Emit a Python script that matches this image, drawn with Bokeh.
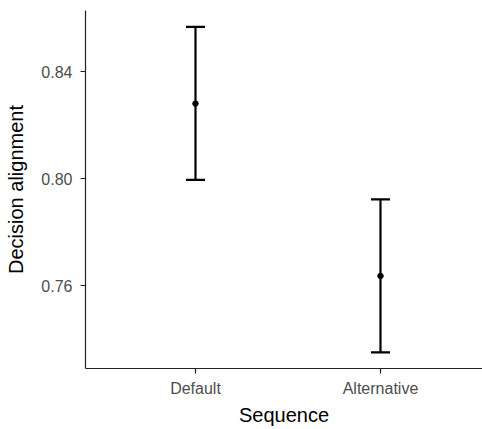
from bokeh.plotting import figure
from bokeh.models import (ColumnDataSource, Whisker, TeeHead, Range1d,
                          FixedTicker, NumeralTickFormatter)
from bokeh.embed import file_html
from bokeh.resources import INLINE

# Data
categories = ["Default", "Alternative"]
positions = [1, 2]
means = [0.828, 0.7636]
upper = [0.8567, 0.7922]
lower = [0.7995, 0.735]
y_ticks = [0.76, 0.80, 0.84]

FONT = "Liberation Sans"

src = ColumnDataSource(dict(x=positions, mean=means, upper=upper, lower=lower))

p = figure(width=482, height=429, output_backend="svg", toolbar_location=None,
           x_range=Range1d(0.4054, 2.5514), y_range=Range1d(0.729, 0.8628),
           min_border_left=85, min_border_right=0, min_border_top=10,
           min_border_bottom=61)
p.outline_line_color = None
p.xgrid.visible = False
p.ygrid.visible = False
p.background_fill_color = "white"
p.border_fill_color = "white"

w = Whisker(source=src, base="x", upper="upper", lower="lower", dimension="height",
            line_color="black", line_width=2.2,
            upper_head=TeeHead(size=19, line_color="black", line_width=2.2),
            lower_head=TeeHead(size=19, line_color="black", line_width=2.2))
p.add_layout(w)
p.scatter("x", "mean", source=src, size=5.5, color="black")

p.xaxis.ticker = FixedTicker(ticks=positions)
p.xaxis.major_label_overrides = {pos: cat for pos, cat in zip(positions, categories)}
p.yaxis.ticker = FixedTicker(ticks=y_ticks)
p.yaxis.formatter = NumeralTickFormatter(format="0.00")

p.xaxis.axis_label = "Sequence"
p.yaxis.axis_label = "Decision alignment"

for ax in (p.xaxis, p.yaxis):
    ax.axis_line_color = "#222222"
    ax.axis_line_width = 1.2
    ax.major_tick_line_color = "#222222"
    ax.major_tick_line_width = 1.2
    ax.major_tick_out = 5
    ax.major_tick_in = 0
    ax.minor_tick_line_color = None
    ax.major_label_text_font = FONT
    ax.major_label_text_font_size = "16px"
    ax.major_label_text_color = "#4d4d4d"
    ax.axis_label_text_font = FONT
    ax.axis_label_text_font_size = "20px"
    ax.axis_label_text_font_style = "normal"
    ax.axis_label_text_color = "black"

p.xaxis.major_label_standoff = 6
p.xaxis.axis_label_standoff = 4
p.yaxis.major_label_standoff = 8
p.yaxis.axis_label_standoff = 11

open("out.html", "w").write(file_html(p, INLINE))
